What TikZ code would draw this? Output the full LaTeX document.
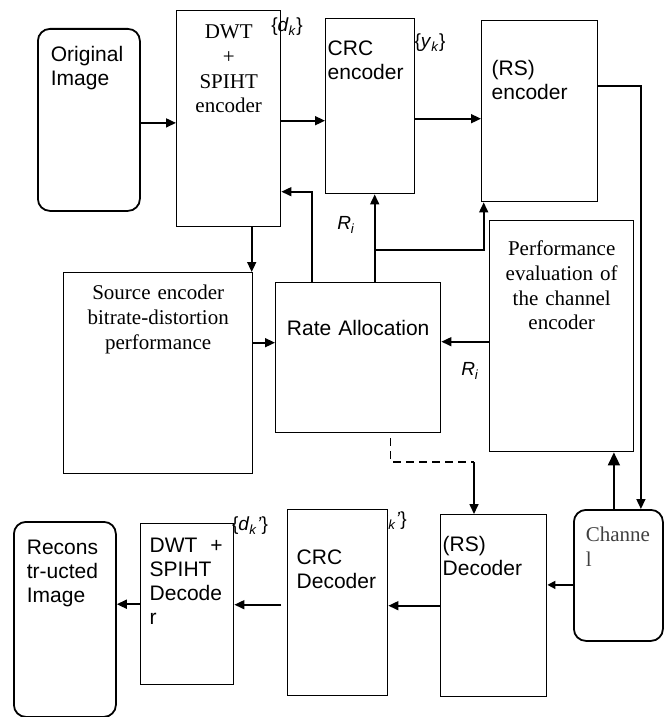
\documentclass[tikz,border=0pt]{standalone}
\usepackage{fontspec}
\setmainfont{Liberation Serif}
\setsansfont{Liberation Sans}
\usetikzlibrary{arrows.meta,positioning}

\begin{document}
\begin{tikzpicture}[
		x=1pt, y=-1pt,
		>={Triangle[length=10pt,width=9pt]},
		blk/.style={
			draw,
			line width=1.4pt,
			anchor=north west,
			inner ysep=0pt
		},
		rblk/.style={blk, line width=1.8pt, rounded corners=12pt},
		sans/.style={font=\sffamily\fontsize{21}{24}\selectfont, align=left},
		serif/.style={font=\rmfamily\fontsize{21}{24.7}\selectfont, align=center},
		sig/.style={font=\sffamily\fontsize{19}{22}\selectfont, inner sep=0pt},
		wire/.style={line width=1.6pt}
		]
		\useasboundingbox (0,0) rectangle (664,717);
		
		% Encoder side
		\node[rblk, sans, inner xsep=13pt, text width=76pt, text height=33pt, text depth=149pt] (orig) at (37,28) {Original\\Image};
		\node[blk, serif, inner xsep=4pt, text width=96pt, text height=28pt, text depth=188pt] (dwtenc) at (176,10) {DWT\\+\\SPIHT\\encoder};
		\node[blk, sans, inner xsep=2pt, text width=85pt, text height=37pt, text depth=138pt] (crcenc) at (325,18) {CRC\\encoder};
		\node[blk, sans, inner xsep=10pt, text width=96pt, text height=55pt, text depth=126pt] (rsenc) at (481,20) {(RS)\\encoder};
		
		% Rate allocation row
		\node[blk, serif, inner xsep=4pt, text width=181pt, text height=27pt, text depth=174pt] (src) at (63,272) {Source encoder\\bitrate-distortion\\performance};
		\node[blk, sans, align=center, inner xsep=4pt, text width=157pt, text height=53pt, text depth=97pt] (rate) at (275,282) {Rate Allocation};
		\node[blk, serif, inner xsep=4pt, text width=136pt, text height=35pt, text depth=196pt] (perf) at (489,220) {Performance\\evaluation of\\the channel\\encoder};
		
		% Decoder side
		\node[rblk, serif, align=left, text=black!75, inner xsep=12pt, text width=65pt, text height=32pt, text depth=99pt] (chan) at (573,509) {Channe\\l};
		\node[blk, sans, inner xsep=2pt, text width=102pt, text height=37pt, text depth=145pt] (rsdec) at (440,514) {(RS)\\Decoder};
		\node[sig, anchor=east] (yk2) at (407,521) {\{\textit{y}\textsubscript{\textit{k}}\textit{'}\}};
		\node[blk, fill=white, sans, inner xsep=9pt, text width=82pt, text height=55pt, text depth=131pt] (crcdec) at (287,509) {CRC\\Decoder};
		\node[blk, sans, inner xsep=7pt, text width=79pt, text height=29pt, text depth=132pt] (dwtdec) at (140,523) {\hspace{2pt}DWT\hspace{6pt} +\\\hspace{2pt}SPIHT\\\hspace{2pt}Decode\\\hspace{2pt}r};
		\node[rblk, sans, inner xsep=13pt, text width=76pt, text height=33pt, text depth=162pt] (recon) at (13,521) {Recons\\tr-ucted\\Image};
		
		% Signal labels
		\node[sig] (dk) at (287,27) {\{\textit{d}\textsubscript{\textit{k}}\}};
		\node[sig] (yk) at (430,43) {\{\textit{y}\textsubscript{\textit{k}}\}};
		\node[sig] (dk2) at (250,526) {\{\textit{d}\textsubscript{\textit{k}}\textit{'}\}};
		\node[sig] (ri1) at (346,225) {\textit{R}\textsubscript{\textit{i}}};
		\node[sig] (ri2) at (470,371) {\textit{R}\textsubscript{\textit{i}}};
		
		% Forward path
		\draw[->, wire] ([yshift=-3pt]orig.east) -- ([yshift=-3pt]orig.east -| dwtenc.west);
		\draw[->, wire] ([yshift=-2pt]dwtenc.east) -- ([yshift=-2pt]dwtenc.east -| crcenc.west);
		\draw[->, wire] ([yshift=-12.5pt]crcenc.east) -- ([yshift=-12.5pt]crcenc.east -| rsenc.west);
		\draw[->, wire] ([yshift=25.5pt]rsenc.east) -| ([xshift=22.5pt]chan.north);
		\draw[-{Triangle[length=13pt,width=12pt]}, wire] ([xshift=-4.5pt]chan.north) -- ([xshift=-4.5pt]chan.north |- perf.south);
		\draw[-{Triangle[length=8pt,width=8pt]}, wire] ([yshift=-9.5pt]chan.west) -- ([yshift=-9.5pt]chan.west -| rsdec.east);
		\draw[->, wire] (rsdec.west) -- (rsdec.west -| crcdec.east);
		\draw[->, wire, shorten <=6pt] ([yshift=-2pt]crcdec.west) -- ([yshift=-2pt]crcdec.west -| dwtdec.east);
		\draw[->, wire] (dwtdec.west) -- (dwtdec.west -| recon.east);
		
		% Rate allocation links
		\draw[->, wire] ([xshift=23pt]dwtenc.south) -- ([xshift=23pt]dwtenc.south |- src.north);
		\draw[->, wire] ([yshift=30.5pt]src.east) -- ([yshift=30.5pt]src.east -| rate.west);
		\draw[->, wire] ([yshift=-5.5pt]perf.west) -- ([yshift=-5.5pt]perf.west -| rate.east);
		\draw[->, wire] ([xshift=-46.5pt]rate.north) |- ([yshift=-73pt]dwtenc.east);
		\draw[->, wire] ([xshift=16.5pt]rate.north) -- ([xshift=16.5pt]rate.north |- crcenc.south);
		\coordinate (br) at (374,250);
		\draw[->, wire] (br) -| ([xshift=-56pt]rsenc.south);
		
		% Rate to channel decoder (dashed)
		\coordinate (dj) at (474,462);
		\draw[wire, line width=1.3pt, dash pattern=on 8pt off 5pt] ([xshift=32.5pt,yshift=-5pt]rate.south) |- (dj);
		\draw[->, wire] (dj) -- (dj |- rsdec.north);
		
\end{tikzpicture}
\end{document}
